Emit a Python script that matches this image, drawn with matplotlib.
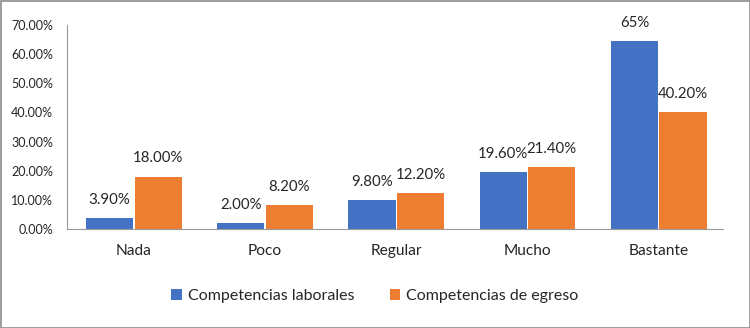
import matplotlib
matplotlib.use("Agg")
import matplotlib.pyplot as plt
import numpy as np
from matplotlib.patches import Rectangle

categories = ["Nada", "Poco", "Regular", "Mucho", "Bastante"]
laborales = [3.9, 2.0, 9.8, 19.6, 64.5]
egreso = [18.0, 8.2, 12.2, 21.4, 40.2]
labels_laborales = ["3.90%", "2.00%", "9.80%", "19.60%", "65%"]
labels_egreso = ["18.00%", "8.20%", "12.20%", "21.40%", "40.20%"]
series_names = ["Competencias laborales", "Competencias de egreso"]
yticks = [0, 10, 20, 30, 40, 50, 60, 70]

plt.rcParams['font.family'] = ['Lato', 'DejaVu Sans']
blue = "#4472C4"
orange = "#ED7D31"

fig = plt.figure(figsize=(7.5, 3.28), dpi=100)
ax = fig.add_axes([67/750, 1-229/328, (723-67)/750, (229-25)/328])

x = np.arange(len(categories))
w = 0.36
gap = 0.005
b1 = ax.bar(x - w/2 - gap, laborales, w, color=blue, label=series_names[0])
b2 = ax.bar(x + w/2 + gap, egreso, w, color=orange, label=series_names[1])

for rect, lab in zip(b1, labels_laborales):
    ax.annotate(lab, (rect.get_x() + rect.get_width()/2, rect.get_height()),
                xytext=(0, 8), textcoords="offset points", ha="center", va="bottom",
                fontsize=10.8, color="#262626")
for rect, lab in zip(b2, labels_egreso):
    ax.annotate(lab, (rect.get_x() + rect.get_width()/2, rect.get_height()),
                xytext=(0, 8), textcoords="offset points", ha="center", va="bottom",
                fontsize=10.8, color="#262626")

ax.set_xlim(-0.51, 4.49)
ax.set_ylim(0, 70)
ax.set_yticks(yticks)
ax.set_yticklabels([f"{v:.2f}%" for v in yticks], fontsize=9, color="#262626")
ax.set_xticks(x)
ax.set_xticklabels(categories, fontsize=11.2, color="#262626")
ax.tick_params(axis='both', length=0)
ax.tick_params(axis='x', pad=11)
ax.tick_params(axis='y', pad=10)
for s in ["top", "right"]:
    ax.spines[s].set_visible(False)
ax.spines["left"].set_color("#9a9a9a")
ax.spines["bottom"].set_color("#9a9a9a")

leg = fig.legend(loc="center", bbox_to_anchor=(0.5, 1-296/328), ncol=2, frameon=False,
                 fontsize=11.5, handlelength=0.65, handleheight=0.65, handletextpad=0.4,
                 columnspacing=2.2, labelcolor="#262626")

fig.patches.append(Rectangle((0.5/750, 0.5/328), 1-1/750, 1-1/328, transform=fig.transFigure,
                             fill=False, edgecolor="#8c8c8c", linewidth=1.2))

fig.savefig("out.png", dpi=100)
